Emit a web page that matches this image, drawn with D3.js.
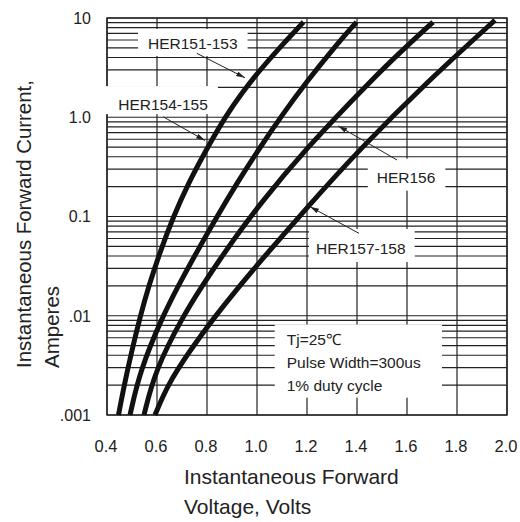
<!DOCTYPE html>
<html>
<head>
<meta charset="utf-8">
<script src="https://cdn.jsdelivr.net/npm/d3@7"></script>
<style>
  body { margin: 0; background: #fff; }
  svg text { font-family: "Liberation Sans", Arial, sans-serif; fill: #222; }
</style>
</head>
<body>
<div class="chart"></div>
<script>
// forward curves: [volts, amperes]
const her151_153 = [[0.446,0.001],[0.469,0.002],[0.498,0.0043],[0.532,0.0097],[0.568,0.0204],[0.615,0.046],[0.665,0.099],[0.726,0.218],[0.796,0.468],[0.877,1.05],[0.942,1.8],[1.012,2.99],[1.089,4.99],[1.186,9.1]];
const her154_155 = [[0.492,0.001],[0.532,0.0028],[0.621,0.0097],[0.687,0.0204],[0.741,0.0365],[0.839,0.099],[0.923,0.223],[1.005,0.468],[1.1,1.05],[1.198,2.27],[1.307,4.99],[1.398,9.1]];
const her156 = [[0.548,0.001],[0.592,0.0028],[0.702,0.0097],[0.783,0.0204],[0.85,0.0365],[0.92,0.065],[1.003,0.125],[1.19,0.468],[1.466,2.49],[1.591,4.99],[1.704,9.1]];
const her157_158 = [[0.592,0.001],[0.642,0.002],[0.727,0.0043],[0.83,0.0097],[0.917,0.0182],[1.011,0.0348],[1.202,0.125],[1.408,0.468],[1.68,2.27],[1.952,9.5]];

const seriesNames = ["HER151-153", "HER154-155", "HER156", "HER157-158"];
const xTicks = [0.4, 0.6, 0.8, 1.0, 1.2, 1.4, 1.6, 1.8, 2.0];
const xTickLabels = ["0.4", "0.6", "0.8", "1.0", "1.2", "1.4", "1.6", "1.8", "2.0"];
const yTicks = [0.001, 0.01, 0.1, 1, 10];
const yTickLabels = [".001", ".01", "0.1", "1.0", "10"];
const conditions = ["Tj=25\u2103", "Pulse Width=300us", "1% duty cycle"];

const w = 520, h = 522;
const pL = 107, pR = 507, pT = 18, pB = 415;

const x = d3.scaleLinear().domain([0.4, 2.0]).range([pL, pR]);
const y = d3.scaleLog().domain([0.001, 10]).range([pB, pT]);

const svg = d3.select(".chart").append("svg")
  .attr("width", w)
  .attr("height", h);

svg.append("defs").append("marker")
  .attr("id", "head")
  .attr("markerUnits", "userSpaceOnUse")
  .attr("markerWidth", 10).attr("markerHeight", 8)
  .attr("refX", 9).attr("refY", 2.5)
  .attr("orient", "auto")
  .append("path")
  .attr("d", "M0,0 L9,2.5 L0,5 Z")
  .attr("fill", "#222");

// grid + frame
const grid = svg.append("g").attr("stroke", "#222").attr("stroke-width", 1.2);
grid.selectAll(".h").data(y.ticks()).enter().append("line")
  .attr("x1", pL).attr("x2", pR)
  .attr("y1", d => y(d)).attr("y2", d => y(d));
grid.selectAll(".v").data(xTicks).enter().append("line")
  .attr("x1", d => x(d)).attr("x2", d => x(d))
  .attr("y1", pT).attr("y2", pB);
grid.append("rect")
  .attr("x", pL).attr("y", pT)
  .attr("width", pR - pL).attr("height", pB - pT)
  .attr("fill", "none")
  .attr("stroke-width", 1.4);

const masks = svg.append("g");

// curves
const line = d3.line()
  .x(d => x(d[0]))
  .y(d => y(d[1]))
  .curve(d3.curveBasis);

svg.append("g").selectAll("path")
  .data([her151_153, her154_155, her156, her157_158])
  .enter().append("path")
  .attr("d", line)
  .attr("fill", "none")
  .attr("stroke", "#111")
  .attr("stroke-width", 5);

// tick labels
svg.append("g").selectAll("text").data(xTicks).enter().append("text")
  .attr("x", d => x(d) - 1)
  .attr("y", pB + 37)
  .attr("text-anchor", "middle")
  .attr("font-size", 16.5)
  .text((d, i) => xTickLabels[i]);

svg.append("g").selectAll("text").data(yTicks).enter().append("text")
  .attr("x", pL - 16)
  .attr("y", d => y(d))
  .attr("dy", "0.36em")
  .attr("text-anchor", "end")
  .attr("font-size", 16)
  .text((d, i) => yTickLabels[i]);

// axis titles
svg.append("text").attr("x", 184).attr("y", 484).attr("font-size", 21).text("Instantaneous Forward");
svg.append("text").attr("x", 184).attr("y", 514).attr("font-size", 21).text("Voltage, Volts");
svg.append("text").attr("transform", "rotate(-90)").attr("x", -368).attr("y", 31)
  .attr("font-size", 20.4).text("Instantaneous Forward Current,");
svg.append("text").attr("transform", "rotate(-90)").attr("x", -368).attr("y", 59)
  .attr("font-size", 20.5).text("Amperes");

// series labels with white boxes and arrows (positions in data units)
const labelLayout = [
  {at: [0.564, 4.87], pad: [10, 10, 6, 4], from: [0.759, 4.41], to: [0.952, 2.5]},
  {at: [0.445, 1.18], pad: [18, 10, 10, 1], from: [0.625, 1.01], to: [0.792, 0.583]},
  {at: [1.479, 0.219], pad: [9, 10, 10, 5], from: [1.56, 0.371], to: [1.325, 0.816]},
  {at: [1.236, 0.0419], pad: [7, 9, 11, 5], from: [1.408, 0.0677], to: [1.212, 0.1255]}
];

function addMask(node, pad) {
  const b = node.getBBox();
  masks.append("rect")
    .attr("x", b.x - pad[0])
    .attr("y", b.y - pad[2])
    .attr("width", b.width + pad[0] + pad[1])
    .attr("height", b.height + pad[2] + pad[3])
    .attr("fill", "#fff");
}

const labels = svg.append("g");
labelLayout.forEach((l, i) => {
  const t = labels.append("text")
    .attr("x", x(l.at[0]))
    .attr("y", y(l.at[1]))
    .attr("font-size", 15.5)
    .text(seriesNames[i]);
  addMask(t.node(), l.pad);
  labels.append("line")
    .attr("x1", x(l.from[0])).attr("y1", y(l.from[1]))
    .attr("x2", x(l.to[0])).attr("y2", y(l.to[1]))
    .attr("stroke", "#222")
    .attr("stroke-width", 1)
    .attr("marker-end", "url(#head)");
});

// test conditions
const cond = svg.append("g");
cond.selectAll("text").data(conditions).enter().append("text")
  .attr("x", x(1.119))
  .attr("y", (d, i) => y(0.00507) + i * 23)
  .attr("font-size", 15.5)
  .text(d => d);
addMask(cond.node(), [12, 21, 6.5, 3.6]);
</script>
</body>
</html>
